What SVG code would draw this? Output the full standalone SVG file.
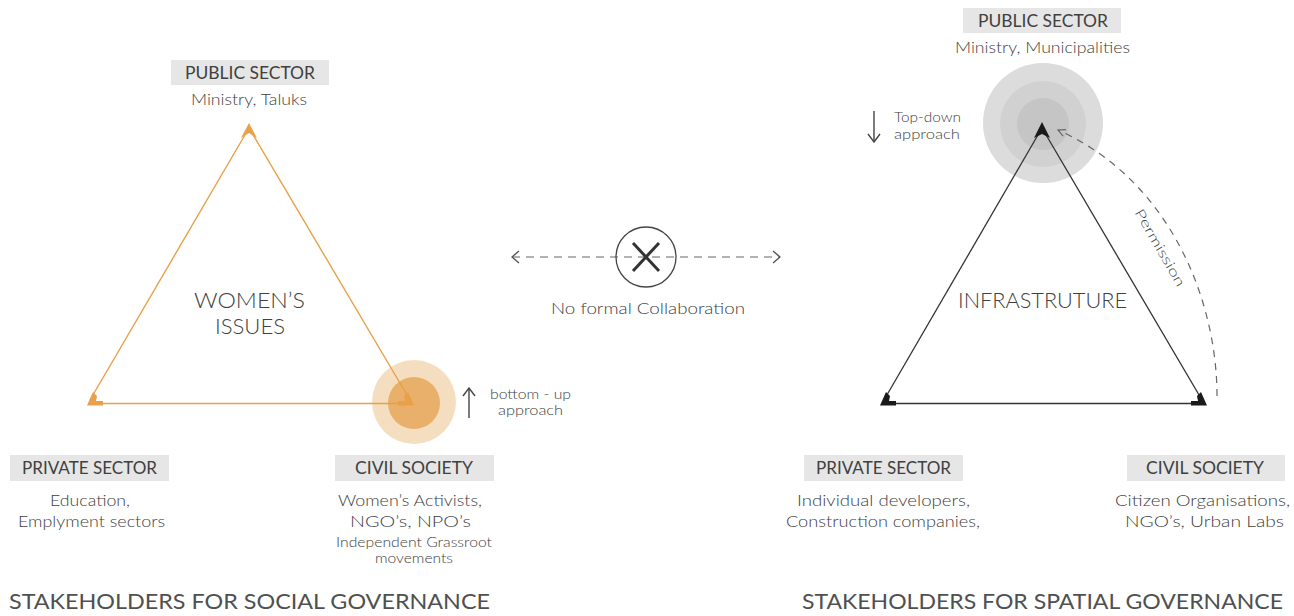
<svg xmlns="http://www.w3.org/2000/svg" width="1294" height="616" viewBox="0 0 1294 616">
<style>
text{font-family:Lato,"Noto Sans","Liberation Sans",sans-serif;fill:#404040;text-anchor:middle;font-weight:300}
.hd{font-size:17px;font-weight:400}
.sub{font-size:15.5px}
.sm{font-size:13.5px}
.xs{font-size:13px}
.big{font-size:21px}
.ttl{font-size:21px;text-anchor:start;fill:#505050;font-weight:400}
.box{fill:#e6e6e6}
.or{stroke:#e8a04a;stroke-width:1.4;fill:none}
.bk{stroke:#333;stroke-width:1.3;fill:none}
.dash{stroke:#666;stroke-width:1.2;fill:none;stroke-dasharray:7 6}
</style>
<defs>
<marker id="chev" viewBox="0 0 10 14" refX="9" refY="7" markerWidth="10" markerHeight="14" markerUnits="userSpaceOnUse" orient="auto-start-reverse">
<path d="M2 1 L9 7 L2 13" fill="none" stroke="#555" stroke-width="1.4"/>
</marker>
<marker id="chevs" viewBox="0 0 10 10" refX="9" refY="5" markerWidth="9" markerHeight="9" markerUnits="userSpaceOnUse" orient="auto">
<path d="M1 1 L9 5 L1 9" fill="none" stroke="#666" stroke-width="1.3"/>
</marker>
<marker id="arr" viewBox="0 0 10 14" refX="9" refY="7" markerWidth="10" markerHeight="14" markerUnits="userSpaceOnUse" orient="auto">
<path d="M1 1 L9 7 L1 13" fill="none" stroke="#444" stroke-width="1.4"/>
</marker>
</defs>
<rect width="1294" height="616" fill="#fff"/>

<!-- LEFT: social governance -->
<g id="civil-circles-left">
<circle cx="414" cy="402" r="42" fill="#f5dec0"/>
<circle cx="414" cy="403" r="26" fill="#e8b06a"/>
</g>
<g id="connectors-left">
<line class="or" x1="249" y1="128" x2="90" y2="400"/>
<line class="or" x1="249" y1="128" x2="410" y2="400"/>
<line class="or" x1="96" y1="403.5" x2="405" y2="403.5"/>
<polygon fill="#e8a04a" points="249,123 257,138 249,133 241,138"/>
<polygon fill="#e8a04a" points="87,405.5 93,392 97,396 96,401 103,401 103,405.5"/>
<polygon fill="#e8a04a" points="414,405.5 408,392 404,396 405,401 398,401 398,405.5"/>
</g>
<g id="public-left">
<rect class="box" x="171" y="60" width="158" height="25"/>
<text class="hd" x="250" y="79" textLength="130" lengthAdjust="spacingAndGlyphs">PUBLIC SECTOR</text>
<text class="sub" x="249" y="105" textLength="116" lengthAdjust="spacingAndGlyphs">Ministry, Taluks</text>
</g>
<g id="center-left">
<text class="big" x="249.5" y="308" textLength="111" lengthAdjust="spacingAndGlyphs">WOMEN’S</text>
<text class="big" x="250" y="334" textLength="70" lengthAdjust="spacingAndGlyphs">ISSUES</text>
</g>
<g id="private-left">
<rect class="box" x="10" y="455" width="159" height="26"/>
<text class="hd" x="89.5" y="474" textLength="135" lengthAdjust="spacingAndGlyphs">PRIVATE SECTOR</text>
<text class="sub" x="90" y="506" textLength="80" lengthAdjust="spacingAndGlyphs">Education,</text>
<text class="sub" x="91.5" y="527" textLength="147" lengthAdjust="spacingAndGlyphs">Emplyment sectors</text>
</g>
<g id="civil-left">
<rect class="box" x="335" y="455" width="159" height="26"/>
<text class="hd" x="414" y="474" textLength="118" lengthAdjust="spacingAndGlyphs">CIVIL SOCIETY</text>
<text class="sub" x="410" y="506" textLength="144" lengthAdjust="spacingAndGlyphs">Women’s Activists,</text>
<text class="sub" x="410.5" y="527" textLength="121" lengthAdjust="spacingAndGlyphs">NGO’s, NPO’s</text>
<text class="xs" x="414" y="547" textLength="156" lengthAdjust="spacingAndGlyphs">Independent Grassroot</text>
<text class="xs" x="414" y="563" textLength="78" lengthAdjust="spacingAndGlyphs">movements</text>
</g>
<g id="bottomup">
<line x1="469" y1="418" x2="469" y2="388" stroke="#444" stroke-width="1.4" marker-end="url(#arr)"/>
<text class="sm" x="530.5" y="399" textLength="81" lengthAdjust="spacingAndGlyphs">bottom - up</text>
<text class="sm" x="530.5" y="415" textLength="65" lengthAdjust="spacingAndGlyphs">approach</text>
</g>
<text class="ttl" x="9" y="609" textLength="481" lengthAdjust="spacingAndGlyphs">STAKEHOLDERS FOR SOCIAL GOVERNANCE</text>

<!-- MIDDLE -->
<g id="no-collab">
<line class="dash" x1="512" y1="257" x2="780" y2="257" marker-start="url(#chev)" marker-end="url(#chev)" style="stroke-dasharray:8 6"/>
<circle cx="646" cy="257" r="30" fill="none" stroke="#444" stroke-width="1.3"/>
<line x1="633" y1="243" x2="659" y2="271" stroke="#333" stroke-width="3"/>
<line x1="659" y1="243" x2="633" y2="271" stroke="#333" stroke-width="3"/>
<text class="sub" x="648" y="314" textLength="194" lengthAdjust="spacingAndGlyphs">No formal Collaboration</text>
</g>

<!-- RIGHT: spatial governance -->
<g id="public-circles-right">
<circle cx="1043" cy="123" r="60" fill="#dcdcdc"/>
<circle cx="1043" cy="124" r="43" fill="#d1d1d1"/>
<circle cx="1043" cy="124" r="26" fill="#c5c5c5"/>
</g>
<g id="connectors-right">
<line class="bk" x1="1042" y1="128" x2="884" y2="400"/>
<line class="bk" x1="1042" y1="128" x2="1202" y2="400"/>
<line class="bk" x1="890" y1="403.5" x2="1197" y2="403.5"/>
<polygon fill="#1a1a1a" points="1042,122 1050,138 1042,134 1034,138"/>
<polygon fill="#1a1a1a" points="880,405.5 886,392 890,396 889,401 896,401 896,405.5"/>
<polygon fill="#1a1a1a" points="1207,405.5 1201,392 1197,396 1198,401 1191,401 1191,405.5"/>
<path class="dash" d="M1217 396 C1217 300 1170 180 1058 130" marker-end="url(#chevs)"/>
<text class="sm" transform="translate(1156,250) rotate(60)" x="0" y="0" textLength="87" lengthAdjust="spacingAndGlyphs">Permission</text>
</g>
<g id="public-right">
<rect class="box" x="963" y="8" width="158" height="25"/>
<text class="hd" x="1043" y="27" textLength="130" lengthAdjust="spacingAndGlyphs">PUBLIC SECTOR</text>
<text class="sub" x="1042.5" y="53" textLength="175" lengthAdjust="spacingAndGlyphs">Ministry, Municipalities</text>
</g>
<g id="topdown">
<line x1="874" y1="111" x2="874" y2="142" stroke="#444" stroke-width="1.4" marker-end="url(#arr)"/>
<text class="sm" x="927.5" y="122" textLength="67" lengthAdjust="spacingAndGlyphs">Top-down</text>
<text class="sm" x="927" y="139" textLength="66" lengthAdjust="spacingAndGlyphs">approach</text>
</g>
<g id="center-right">
<text class="big" x="1042.5" y="308" textLength="169" lengthAdjust="spacingAndGlyphs">INFRASTRUTURE</text>
</g>
<g id="private-right">
<rect class="box" x="804" y="455" width="159" height="26"/>
<text class="hd" x="883.5" y="474" textLength="135" lengthAdjust="spacingAndGlyphs">PRIVATE SECTOR</text>
<text class="sub" x="883.5" y="506" textLength="173" lengthAdjust="spacingAndGlyphs">Individual developers,</text>
<text class="sub" x="883" y="527" textLength="194" lengthAdjust="spacingAndGlyphs">Construction companies,</text>
</g>
<g id="civil-right">
<rect class="box" x="1127" y="455" width="158" height="26"/>
<text class="hd" x="1205" y="474" textLength="118" lengthAdjust="spacingAndGlyphs">CIVIL SOCIETY</text>
<text class="sub" x="1202.5" y="506" textLength="175" lengthAdjust="spacingAndGlyphs">Citizen Organisations,</text>
<text class="sub" x="1204.5" y="527" textLength="159" lengthAdjust="spacingAndGlyphs">NGO’s, Urban Labs</text>
</g>
<text class="ttl" x="802" y="609" textLength="481" lengthAdjust="spacingAndGlyphs">STAKEHOLDERS FOR SPATIAL GOVERNANCE</text>
</svg>
